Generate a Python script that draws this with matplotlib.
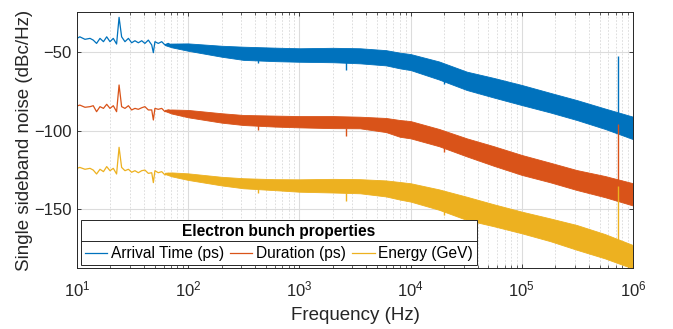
import matplotlib
matplotlib.use("Agg")
import matplotlib.pyplot as plt
from matplotlib.ticker import LogLocator, FixedLocator, NullLocator

plt.rcParams['font.family'] = ['Liberation Sans', 'DejaVu Sans']
plt.rcParams['mathtext.fontset'] = 'custom'
plt.rcParams['mathtext.rm'] = 'Liberation Sans'

# low frequency part: sparse FFT bins, drawn as a plain line
freq_low = [10, 10.6, 11.8, 13.1, 14.0, 15.0, 16.1, 17.3, 18.5, 19.8, 21.2, 22.7,
            23.9, 25.2, 27.0, 29.0, 31.0, 33.2, 35.6, 38.2, 40.8, 43.8, 47.0,
            48.6, 50.2, 53.8, 57.8, 61.8, 66.2, 71]
arrival_low = [-41.3, -40.3, -41.9, -41.3, -42.4, -44.5, -41.3, -43.4, -40.3, -43.4,
               -41.3, -44.9, -27.9, -40.3, -43.4, -41.3, -44.1, -42.8, -44.1, -42.8,
               -44.5, -42.4, -45.5, -50.4, -43.4, -44.5, -43.4, -45.5, -44.5, -46.0]
duration_low = [-84.4, -83.8, -85.2, -84.8, -84.2, -88.0, -84.8, -85.9, -83.3, -85.9,
                -84.2, -88.0, -71.0, -84.8, -85.9, -84.2, -86.9, -85.9, -86.5, -85.5,
                -84.8, -86.9, -86.9, -93.3, -85.9, -86.5, -85.9, -88.0, -86.9, -87.6]
energy_low = [-124.1, -123.5, -124.7, -124.1, -125.2, -127.7, -124.7, -126.2, -123.0,
              -125.6, -124.1, -127.7, -110.7, -123.5, -125.6, -124.7, -126.6, -125.6,
              -126.9, -125.6, -125.2, -127.3, -126.9, -133.2, -125.6, -126.9, -126.2,
              -128.3, -127.3, -128.3]

# higher frequencies: dense bins, drawn as the band they fill (upper / lower edge)
freq_band = [61.8, 71, 100, 200, 313, 600, 1000, 2000, 3500, 6000, 8000, 10000, 18000,
             32000, 56000, 100000, 180000, 312000, 560000, 1000000]
arrival_hi = [-44.8, -44.6, -44.5, -46.0, -46.6, -47.2, -47.6, -47.3, -47.6, -48.8, -50.4,
              -51.3, -56.0, -62.5, -66.5, -71.0, -76.0, -80.6, -86.0, -91.2]
arrival_lo = [-45.6, -47.0, -49.2, -53.0, -55.0, -55.8, -56.2, -56.5, -57.2, -58.5, -60.4,
              -61.5, -67.5, -74.2, -79.0, -83.8, -88.5, -93.3, -99.0, -105.5]
duration_hi = [-86.8, -86.6, -86.9, -89.0, -90.1, -90.5, -90.8, -90.8, -91.2, -92.0, -93.3,
               -94.0, -99.0, -105.0, -110.0, -115.6, -120.5, -125.2, -129.0, -133.6]
duration_lo = [-87.6, -89.2, -91.6, -95.0, -96.5, -97.5, -98.0, -98.5, -98.6, -101.0, -104.0,
               -105.0, -110.0, -116.5, -122.5, -128.3, -133.0, -137.9, -142.5, -147.8]
energy_hi = [-126.9, -126.7, -127.3, -129.5, -130.4, -131.0, -131.1, -130.8, -131.0, -131.8,
             -132.8, -133.6, -137.5, -142.2, -147.0, -151.7, -156.0, -160.2, -166.0, -173.0]
energy_lo = [-127.7, -129.2, -131.5, -135.0, -136.8, -138.0, -139.0, -139.5, -140.0, -142.0,
             -144.0, -145.3, -150.5, -157.0, -161.0, -165.5, -170.5, -176.0, -181.5, -188.0]

# single low bins sticking out under the band
dip_freq = [427, 2600, 19800]
arrival_dip = [-57.2, -61.5, -70.4]
duration_dip = [-99.7, -103.5, -113.5]
energy_dip = [-139.8, -144.6, -153.8]

# narrow line near 740 kHz
spike_freq = 7.4e5
spike_top = [-52.5, -95.9, -135.4]
spike_base = [-100.0, -140.0, -180.0]

labels = ['Arrival Time (ps)', 'Duration (ps)', 'Energy (GeV)']
colors = ['#0072BD', '#D95319', '#EDB120']

fig = plt.figure(figsize=(6.73, 3.29), dpi=100)
ax = fig.add_axes([0.1144, 0.1854, 0.8262, 0.7781])

lows = [arrival_low, duration_low, energy_low]
his = [arrival_hi, duration_hi, energy_hi]
los = [arrival_lo, duration_lo, energy_lo]
dips = [arrival_dip, duration_dip, energy_dip]
handles = []
for i in range(3):
    h, = ax.plot(freq_low, lows[i], color=colors[i], lw=0.9, label=labels[i])
    handles.append(h)
    ax.fill_between(freq_band, los[i], his[i], color=colors[i], lw=0.6,
                    edgecolor=colors[i])
    ax.vlines(dip_freq, dips[i], [d + 5 for d in dips[i]], color=colors[i], lw=1.0)
    ax.vlines(spike_freq, spike_base[i], spike_top[i], color=colors[i], lw=1.0)

ax.set_xscale('log')
ax.set_xlim(10, 1e6)
ax.set_ylim(-187.6, -24.5)
ax.yaxis.set_major_locator(FixedLocator([-150, -100, -50]))
ax.yaxis.set_minor_locator(NullLocator())
ax.xaxis.set_major_locator(LogLocator(base=10, numticks=10))
ax.xaxis.set_minor_locator(LogLocator(base=10, subs=range(2, 10), numticks=20))

ax.grid(True, which='major', color='#dcdcdc', lw=0.8, ls='-')
ax.grid(True, which='minor', axis='x', color='#d8d8d8', lw=0.6, ls=(0, (2, 2)))
ax.set_axisbelow(True)

for s in ax.spines.values():
    s.set_color('#262626')
    s.set_linewidth(0.7)
ax.tick_params(which='both', direction='in', top=True, right=True, colors='#262626',
               labelsize=12, labelcolor='#262626')
ax.tick_params(which='major', length=3.2, width=0.6)
ax.tick_params(which='minor', length=2.2, width=0.5)
ax.tick_params(axis='x', pad=8)
ax.tick_params(axis='y', pad=4)

ax.set_xlabel('Frequency (Hz)', fontsize=13.5, color='#262626', labelpad=6)
ax.set_ylabel('Single sideband noise (dBc/Hz)', fontsize=13.5, color='#262626',
              labelpad=1)

leg = ax.legend(handles=handles, ncol=3, loc='lower left',
                bbox_to_anchor=(0.0067, 0.0105), borderaxespad=0,
                title='Electron bunch properties', fontsize=11.2,
                title_fontproperties={'weight': 'bold', 'size': 11.2},
                handlelength=1.45, handletextpad=0.22, columnspacing=0.4,
                borderpad=0.25, fancybox=False, framealpha=1,
                edgecolor='#262626')
leg.get_frame().set_linewidth(0.7)

fig.canvas.draw()
tb = leg.get_title().get_window_extent()
fb = leg.get_frame().get_window_extent()
inv = fig.transFigure.inverted()
x0, y_sep = inv.transform((fb.x0, tb.y0 - 2))
x1, _ = inv.transform((fb.x1, tb.y0 - 2))
fig.add_artist(plt.Line2D([x0, x1], [y_sep, y_sep], color='#262626', lw=0.7,
                          transform=fig.transFigure))

fig.savefig('out.png', dpi=100)
